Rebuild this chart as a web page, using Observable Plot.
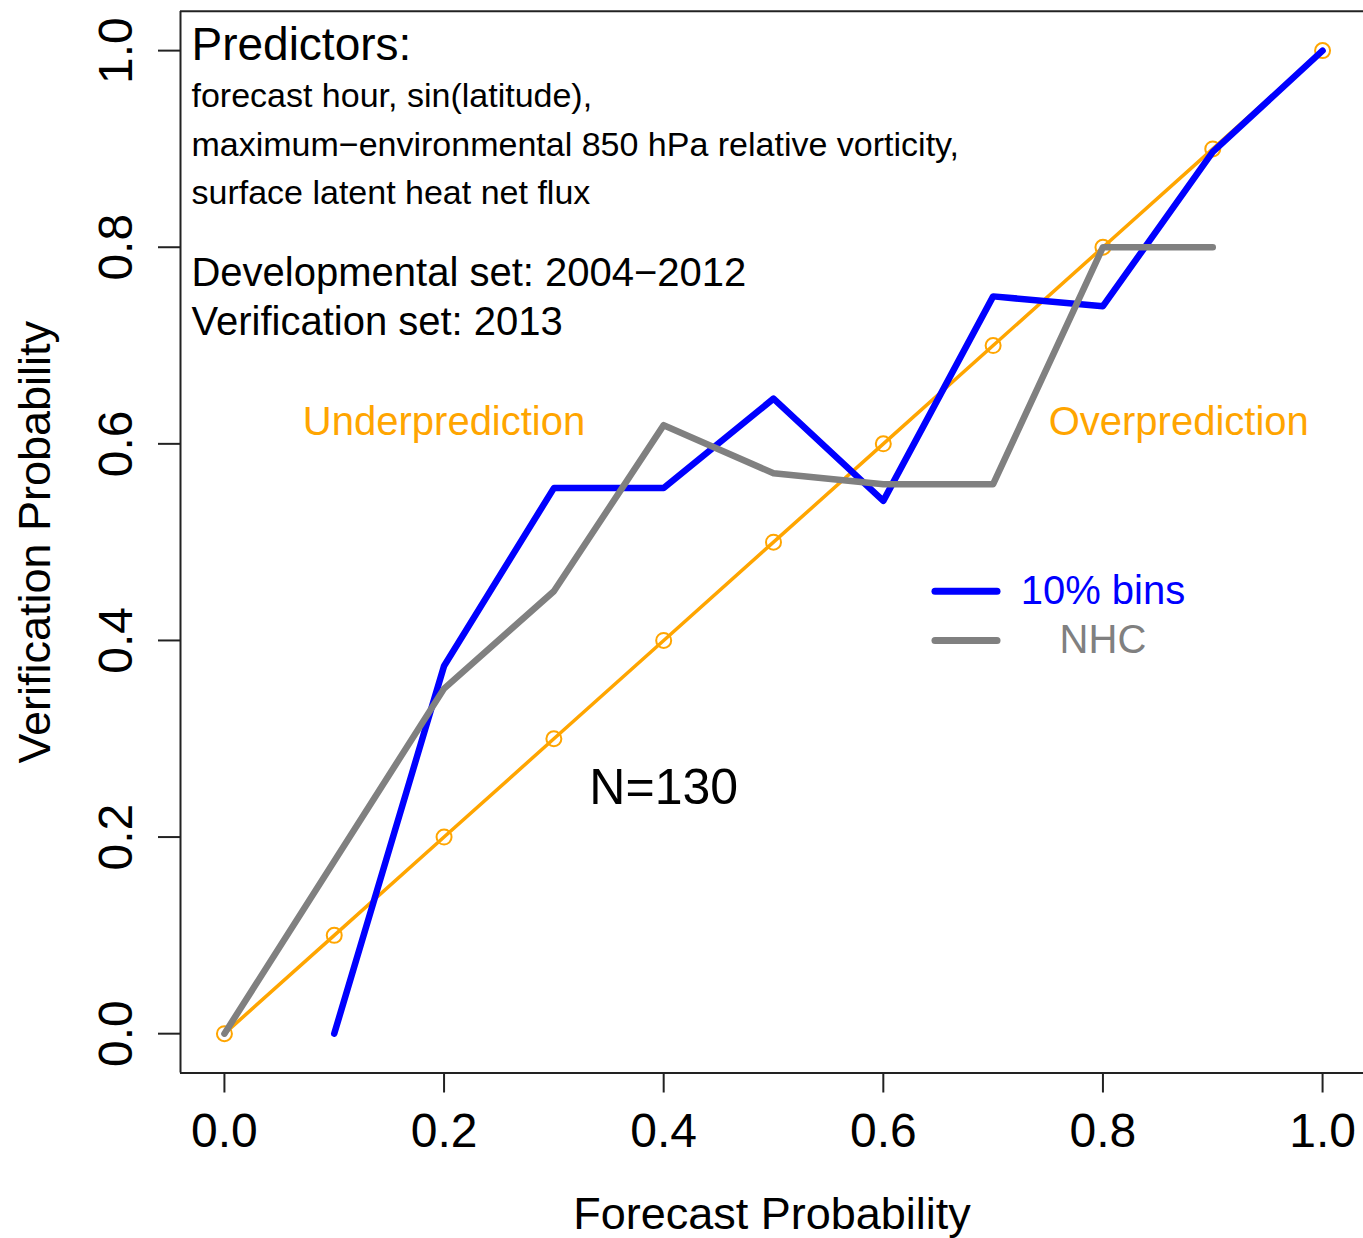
<!DOCTYPE html>
<html>
<head>
<meta charset="utf-8">
<script src="https://cdn.jsdelivr.net/npm/d3@7"></script>
<script src="https://cdn.jsdelivr.net/npm/@observablehq/plot@0.6"></script>
<style>
  html, body { margin: 0; padding: 0; background: #fff; overflow: hidden; }
  #chart svg { display: block; overflow: hidden; }
</style>
</head>
<body>
<div id="chart"></div>
<script>
// ---- Data ----
const binForecast = [0.1, 0.2, 0.3, 0.4, 0.5, 0.6, 0.7, 0.8, 0.9, 1.0];
const binVerification = [0.0, 0.374, 0.555, 0.555, 0.646, 0.542, 0.75, 0.74, 0.897, 1.0];

const nhcForecast = [0.0, 0.2, 0.3, 0.4, 0.5, 0.6, 0.7, 0.8, 0.9];
const nhcVerification = [0.0, 0.351, 0.45, 0.619, 0.57, 0.559, 0.559, 0.80, 0.80];

const perfectReliability = [0.0, 0.1, 0.2, 0.3, 0.4, 0.5, 0.6, 0.7, 0.8, 0.9, 1.0];

const tickValues = [0.0, 0.2, 0.4, 0.6, 0.8, 1.0];

const legendLabels = ["10% bins", "NHC"];
const legendColors = ["#0000FF", "#808080"];
const legendY = [0.45, 0.40];

const infoLines = [
  "Predictors:",
  "forecast hour, sin(latitude),",
  "maximum\u2212environmental 850 hPa relative vorticity,",
  "surface latent heat net flux",
  "Developmental set: 2004\u22122012",
  "Verification set: 2013"
];
const infoY = [1.005, 0.954, 0.904, 0.855, 0.774, 0.724];
const infoSize = [46, 34, 34, 34, 40, 40];

const regionLabels = ["Underprediction", "Overprediction"];
const regionX = [0.2, 0.869];
const regionY = [0.622, 0.622];

const sampleLabel = ["N=130"];

// ---- Build tables ----
const bins = binForecast.map((f, i) => ({f, v: binVerification[i]}));
const nhc = nhcForecast.map((f, i) => ({f, v: nhcVerification[i]}));
const diag = perfectReliability.map(p => ({f: p, v: p}));
const legend = legendLabels.map((label, i) => ({label, color: legendColors[i], y: legendY[i]}));
const info = infoLines.map((t, i) => ({t, y: infoY[i], s: infoSize[i]}));
const regions = regionLabels.map((t, i) => ({t, x: regionX[i], y: regionY[i]}));

const FONT = "'Liberation Sans', Arial, Helvetica, sans-serif";

const marks = [
  // box (left, top, bottom; right edge falls outside the picture)
  Plot.ruleX([-0.04], {stroke: "#222", strokeWidth: 2}),
  Plot.ruleY([-0.04, 1.04], {stroke: "#222", strokeWidth: 2}),
  // axes
  Plot.axisX({
    ticks: tickValues, tickFormat: d3.format(".1f"), tickSize: 20, tickPadding: 20,
    fontSize: 48, stroke: "#222", strokeWidth: 2, color: "#000", label: null
  }),
  Plot.axisY({
    ticks: tickValues, tickFormat: d3.format(".1f"), tickSize: 22, tickPadding: 27,
    tickRotate: -90, fontSize: 48, stroke: "#222", strokeWidth: 2, color: "#000", label: null
  }),
  // axis titles
  Plot.text(["Forecast Probability"], {frameAnchor: "bottom", dy: 142, fontSize: 45, fill: "#000", lineAnchor: "middle"}),
  Plot.text(["Verification Probability"], {frameAnchor: "left", dx: -145, rotate: -90, fontSize: 45, fill: "#000", lineAnchor: "middle", textAnchor: "middle"}),
  // perfect reliability (underneath)
  Plot.line(diag, {x: "f", y: "v", stroke: "#FFA500", strokeWidth: 3.5}),
  Plot.dot(diag, {x: "f", y: "v", r: 7.5, stroke: "#FFA500", strokeWidth: 2, fill: "none"}),
  // 10% bins series
  Plot.line(bins, {x: "f", y: "v", stroke: legendColors[0], strokeWidth: 6.5, strokeLinejoin: "round", strokeLinecap: "round"}),
  // NHC series (on top)
  Plot.line(nhc, {x: "f", y: "v", stroke: legendColors[1], strokeWidth: 6.5, strokeLinejoin: "round", strokeLinecap: "round"}),
  // annotation text
  Plot.text(info, {x: -0.030, y: "y", text: "t", fontSize: "s", textAnchor: "start", lineAnchor: "middle", fill: "#000"}),
  Plot.text(regions, {x: "x", y: "y", text: "t", fontSize: 40, textAnchor: "middle", lineAnchor: "middle", fill: "#FFA500"}),
  Plot.text(sampleLabel, {x: 0.4, y: 0.25, fontSize: 50, textAnchor: "middle", lineAnchor: "middle", fill: "#000"}),
  // legend
  Plot.ruleY(legend, {y: "y", x1: 0.6475, x2: 0.704, stroke: "color", strokeWidth: 7, strokeLinecap: "round"}),
  Plot.text(legend, {x: 0.8, y: "y", text: "label", fill: "color", fontSize: 40, textAnchor: "middle", lineAnchor: "middle"})
];

const chart = Plot.plot({
  width: 1363,
  height: 1238,
  marginLeft: 180,
  marginRight: 0,
  marginTop: 11,
  marginBottom: 165.5,
  x: {domain: [-0.04, 1.04], range: [180, 1366]},
  y: {domain: [-0.04, 1.04], range: [1072.5, 10.8]},
  style: {fontFamily: FONT, background: "#fff", overflow: "hidden"},
  marks
});
document.getElementById("chart").appendChild(chart);
</script>
</body>
</html>
